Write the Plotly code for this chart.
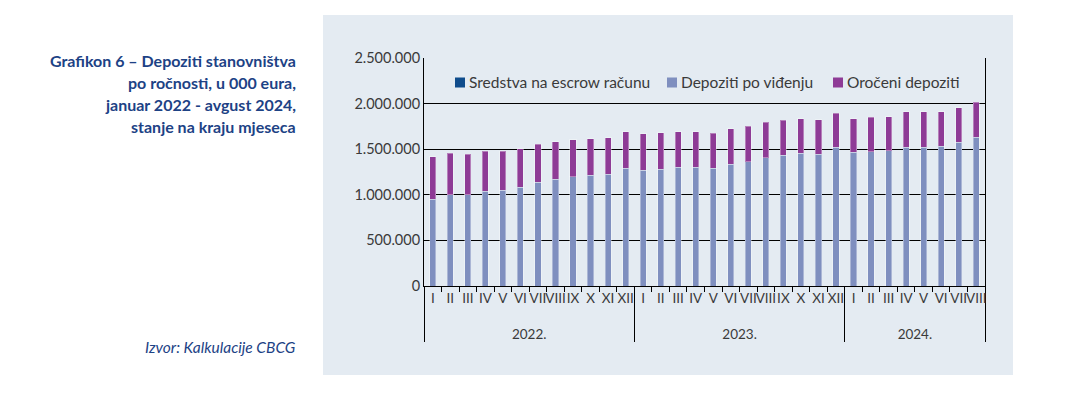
import plotly.graph_objects as go

years = ["2022."] * 12 + ["2023."] * 12 + ["2024."] * 8
months = ["I", "II", "III", "IV", "V", "VI", "VII", "VIII", "IX", "X", "XI", "XII"] * 2 + \
         ["I", "II", "III", "IV", "V", "VI", "VII", "VIII"]

escrow = [0] * 32
po_vidjenju = [953000, 1000000, 1000000, 1040000, 1051000, 1084000, 1135000, 1168000,
               1197000, 1216000, 1227000, 1292000, 1270000, 1281000, 1300000, 1300000,
               1292000, 1336000, 1365000, 1409000, 1435000, 1457000, 1446000, 1519000,
               1468000, 1471000, 1482000, 1522000, 1522000, 1533000, 1574000, 1632000]
oroceni = [463000, 453000, 442000, 438000, 424000, 420000, 417000, 413000,
           409000, 401000, 401000, 402000, 398000, 402000, 390000, 394000,
           384000, 387000, 387000, 384000, 380000, 379000, 379000, 376000,
           368000, 380000, 373000, 391000, 391000, 376000, 383000, 383000]

series_names = ["Sredstva na escrow računu", "Depoziti po viđenju", "Oročeni depoziti"]

y_ticks = [0, 500000, 1000000, 1500000, 2000000, 2500000]

title_lines = ["Grafikon 6 – Depoziti stanovništva",
               "po ročnosti, u 000 eura,",
               "januar 2022 - avgust 2024,",
               "stanje na kraju mjeseca"]
source_text = "Izvor: Kalkulacije CBCG"

C_ESCROW = "#0f4c8c"
C_PO = "#7f8fbf"
C_ORO = "#8e3b96"
C_PANEL = "#e4ebf2"
C_TITLE = "#1d4285"
C_TEXT = "#3a3a3a"
FONT = "Lato"
colors = [C_ESCROW, C_PO, C_ORO]

# page body has an 8px margin: work in page pixels, convert to figure pixels
OFF = 8
W, H = 1082 - OFF, 398 - OFF
L, R, T, B = 424, 985, 58, 286  # plot area in page pixels
pw, ph = R - L, B - T


def px(xp):
    return (xp - L) / pw


def py(yp):
    return (B - yp) / ph


x = [["<br>" + yv for yv in years], months]
fig = go.Figure()
outline = dict(color="rgba(255,255,255,0.35)", width=1)
for name, vals, col in zip(series_names, [escrow, po_vidjenju, oroceni], colors):
    fig.add_trace(go.Bar(x=x, y=vals, name=name, showlegend=False,
                         marker=dict(color=col, line=outline)))

shapes = [dict(type="rect", xref="paper", yref="paper",
               x0=px(323), x1=px(1013), y0=py(375), y1=py(15),
               fillcolor=C_PANEL, line=dict(width=0), layer="below")]

# legend (drawn manually for exact spacing)
legend_x = [455, 667, 833]
for lx, name, col in zip(legend_x, series_names, colors):
    shapes.append(dict(type="rect", xref="paper", yref="paper",
                       x0=px(lx), x1=px(lx + 10), y0=py(87.5), y1=py(77.5),
                       fillcolor=col, line=dict(width=0), layer="above"))
    fig.add_annotation(text=name, xref="paper", yref="paper",
                       x=px(lx + 12), y=py(82), xanchor="left", yanchor="middle",
                       showarrow=False, font=dict(family=FONT, size=15.5, color=C_TEXT))

fig.update_layout(
    width=W, height=H,
    margin=dict(l=L - OFF, r=(W + OFF) - R, t=T - OFF, b=(H + OFF) - B),
    barmode="stack",
    bargap=0.65,
    paper_bgcolor="white",
    plot_bgcolor="rgba(0,0,0,0)",
    separators=",.",
    font=dict(family=FONT, size=13, color=C_TEXT),
    showlegend=False,
    shapes=shapes,
)

fig.update_yaxes(range=[0, 2500000], tickvals=y_ticks, tickformat=",.0f",
                 showgrid=True, gridcolor="black", gridwidth=1,
                 showline=True, linecolor="black", linewidth=1, mirror=True,
                 zeroline=False, ticks="", tickfont=dict(size=14.5, color=C_TEXT))
fig.update_xaxes(type="multicategory", showline=True, linecolor="black", linewidth=1,
                 ticks="outside", ticklen=5, tickcolor="black", tickangle=0,
                 showdividers=True, dividercolor="black", dividerwidth=1,
                 tickfont=dict(size=13.5, color=C_TEXT), showgrid=False)

ys = [60, 82, 104, 126]
for line, yy in zip(title_lines, ys):
    fig.add_annotation(text="<b>" + line + "</b>", xref="paper", yref="paper",
                       x=px(298), y=py(yy), xanchor="right", yanchor="middle",
                       showarrow=False, font=dict(family=FONT, size=16, color=C_TITLE))
fig.add_annotation(text="<i>" + source_text + "</i>", xref="paper", yref="paper",
                   x=px(298), y=py(347), xanchor="right", yanchor="middle",
                   showarrow=False, font=dict(family=FONT, size=15.5, color=C_TITLE))

fig.write_html("out.html")
